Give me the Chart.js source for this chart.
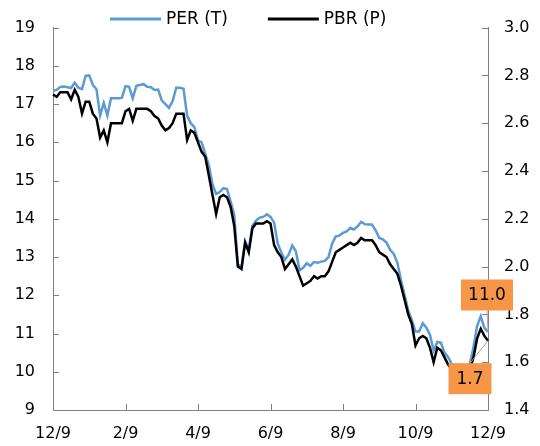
<!DOCTYPE html>
<html>
<head>
<meta charset="utf-8">
<script src="https://cdn.jsdelivr.net/npm/chart.js@4/dist/chart.umd.min.js"></script>
<style>
html, body { margin: 0; padding: 0; background: #fff; }
#wrap { width: 540px; height: 446px; position: relative; }
</style>
</head>
<body>
<div id="wrap"><canvas id="chart"></canvas></div>
<script>
// DATA
const tickLabels = ["12/9", "2/9", "4/9", "6/9", "8/9", "10/9", "12/9"];
const tickEvery = 20;

const seriesNames = ["PER (T)", "PBR (P)"];

const perValues = [
    17.35, 17.37, 17.45, 17.46, 17.44, 17.42, 17.56, 17.43, 17.39, 17.74,
    17.75, 17.5, 17.39, 16.7, 17.03, 16.7, 17.15, 17.15, 17.15, 17.16,
    17.47, 17.45, 17.15, 17.48, 17.5, 17.52, 17.45, 17.44, 17.37, 17.38,
    17.1, 17.0, 16.9, 17.08, 17.43, 17.43, 17.4, 16.7, 16.5, 16.4,
    16.05, 16.0, 15.7, 15.4, 14.9, 14.65, 14.7, 14.8, 14.78, 14.45,
    14.1, 12.8, 12.75, 13.42, 13.2, 13.82, 13.95, 14.03, 14.05, 14.12,
    14.05, 13.9, 13.35, 13.12, 12.93, 13.06, 13.3, 13.15, 12.65, 12.72,
    12.84, 12.77, 12.87, 12.85, 12.88, 12.9, 13.0, 13.35, 13.54, 13.56,
    13.63, 13.67, 13.76, 13.72, 13.8, 13.92, 13.86, 13.85, 13.85, 13.7,
    13.5, 13.46, 13.38, 13.19, 13.08, 12.85, 12.4, 12.0, 11.6, 11.35,
    11.05, 11.05, 11.27, 11.15, 10.96, 10.55, 10.78, 10.76, 10.5, 10.38,
    10.2, 10.1, 10.05, 10.05, 10.1, 10.2, 10.65, 11.2, 11.45, 11.15,
    11.04
];

const pbrValues = [
    2.72, 2.71, 2.73, 2.73, 2.73, 2.70, 2.74, 2.71, 2.64, 2.69,
    2.69, 2.64, 2.62, 2.54, 2.57, 2.52, 2.60, 2.60, 2.60, 2.60,
    2.65, 2.66, 2.61, 2.66, 2.66, 2.66, 2.66, 2.65, 2.63, 2.62,
    2.59, 2.57, 2.58, 2.60, 2.64, 2.64, 2.64, 2.53, 2.57, 2.56,
    2.52, 2.48, 2.46, 2.38, 2.30, 2.22, 2.29, 2.30, 2.29, 2.25,
    2.17, 2.00, 1.99, 2.10, 2.06, 2.16, 2.18, 2.18, 2.18, 2.19,
    2.18, 2.09, 2.06, 2.04, 1.99, 2.01, 2.03, 2.00, 1.96, 1.92,
    1.93, 1.94, 1.96, 1.95, 1.96, 1.96, 1.98, 2.02, 2.06, 2.07,
    2.08, 2.09, 2.10, 2.09, 2.10, 2.12, 2.11, 2.11, 2.11, 2.09,
    2.06, 2.05, 2.04, 2.01, 1.99, 1.97, 1.92, 1.86, 1.80, 1.76,
    1.67, 1.70, 1.71, 1.70, 1.66, 1.60, 1.66, 1.65, 1.62, 1.59,
    1.57, 1.55, 1.54, 1.54, 1.55, 1.57, 1.62, 1.70, 1.74, 1.71,
    1.69
];

const categories = perValues.map((_, i) => i);

Chart.defaults.font.family = "'DejaVu Sans', Verdana, sans-serif";
Chart.defaults.font.size = 16;
Chart.defaults.color = "#000";

const axisGrey = "#808080";

// inward tick marks, end-of-line value boxes, legend
const overlay = {
    id: "overlay",
    beforeDatasetsDraw(chart) {
        const ctx = chart.ctx;
        const { x, y, y2 } = chart.scales;
        ctx.save();
        ctx.strokeStyle = axisGrey;
        ctx.lineWidth = 1;
        ctx.beginPath();
        y.ticks.forEach(t => {
            const py = Math.round(y.getPixelForValue(t.value)) + 0.5;
            ctx.moveTo(y.right, py);
            ctx.lineTo(y.right + 6, py);
        });
        y2.ticks.forEach(t => {
            const py = Math.round(y2.getPixelForValue(t.value)) + 0.5;
            ctx.moveTo(y2.left - 6, py);
            ctx.lineTo(y2.left, py);
        });
        categories.forEach(i => {
            if (i % tickEvery !== 0) return;
            const px = Math.round(x.getPixelForValue(i)) + 0.5;
            ctx.moveTo(px, x.top);
            ctx.lineTo(px, x.top - 6);
        });
        ctx.stroke();
        ctx.restore();
    },
    afterDatasetsDraw(chart) {
        const ctx = chart.ctx;
        const boxes = [
            { ds: 0, dx: -1, dy: -37, w: 52, h: 31 },
            { ds: 1, dx: -18, dy: 38, w: 43, h: 31 }
        ];
        boxes.forEach(b => {
            const meta = chart.getDatasetMeta(b.ds);
            const pt = meta.data[meta.data.length - 1];
            const values = chart.data.datasets[b.ds].data;
            const cx = pt.x + b.dx, cy = pt.y + b.dy;
            const edgeY = b.dy < 0 ? cy + b.h / 2 : cy - b.h / 2;
            ctx.save();
            ctx.strokeStyle = "#a6a6a6";
            ctx.lineWidth = 1;
            ctx.beginPath();
            ctx.moveTo(cx, edgeY);
            ctx.lineTo(pt.x, pt.y);
            ctx.stroke();
            ctx.fillStyle = "#F79646";
            ctx.fillRect(cx - b.w / 2, cy - b.h / 2, b.w, b.h);
            ctx.fillStyle = "#000";
            ctx.font = "17px 'DejaVu Sans', Verdana, sans-serif";
            ctx.textAlign = "center";
            ctx.textBaseline = "middle";
            ctx.fillText(values[values.length - 1].toFixed(1), cx, cy + 1);
            ctx.restore();
        });
    },
    afterDraw(chart) {
        const ctx = chart.ctx;
        ctx.save();
        ctx.font = "17px 'DejaVu Sans', Verdana, sans-serif";
        ctx.textBaseline = "middle";
        ctx.textAlign = "left";
        let x = 110;
        const y = 19;
        chart.data.datasets.forEach(ds => {
            ctx.strokeStyle = ds.borderColor;
            ctx.lineWidth = 3;
            ctx.beginPath();
            ctx.moveTo(x, y);
            ctx.lineTo(x + 51, y);
            ctx.stroke();
            ctx.fillStyle = "#000";
            ctx.fillText(ds.label, x + 56, y + 1);
            x += 56 + ctx.measureText(ds.label).width + 40;
        });
        ctx.restore();
    }
};

new Chart(document.getElementById("chart"), {
    type: "line",
    data: {
        labels: categories,
        datasets: [{
            label: seriesNames[0],
            data: perValues,
            borderColor: "#5B9BD5",
            borderWidth: 2.5,
            pointRadius: 0,
            yAxisID: "y",
            order: 2
        }, {
            label: seriesNames[1],
            data: pbrValues,
            borderColor: "#000000",
            borderWidth: 2.5,
            pointRadius: 0,
            yAxisID: "y2",
            order: 1
        }]
    },
    options: {
        responsive: true,
        maintainAspectRatio: false,
        animation: false,
        layout: { padding: { top: 25, left: 0, right: 0, bottom: 0 } },
        plugins: {
            legend: { display: false },
            tooltip: { enabled: false }
        },
        scales: {
            x: {
                offset: false,
                border: { color: axisGrey, width: 1 },
                grid: { display: false, drawTicks: false },
                ticks: {
                    autoSkip: false,
                    maxRotation: 0,
                    padding: 14,
                    callback: (v, i) => (i % tickEvery === 0 ? tickLabels[i / tickEvery] : null)
                },
                afterFit: s => { s.height = 36; }
            },
            y: {
                position: "left",
                min: 9,
                max: 19,
                border: { color: axisGrey, width: 1 },
                grid: { display: false, drawTicks: false },
                ticks: { stepSize: 1, padding: 18 },
                afterFit: s => { s.width = 53; }
            },
            y2: {
                position: "right",
                min: 1.4,
                max: 3.0,
                border: { color: axisGrey, width: 1 },
                grid: { display: false, drawTicks: false },
                ticks: { stepSize: 0.2, padding: 16, callback: v => v.toFixed(1) },
                afterFit: s => { s.width = 52; }
            }
        }
    },
    plugins: [overlay]
});
</script>
</body>
</html>
